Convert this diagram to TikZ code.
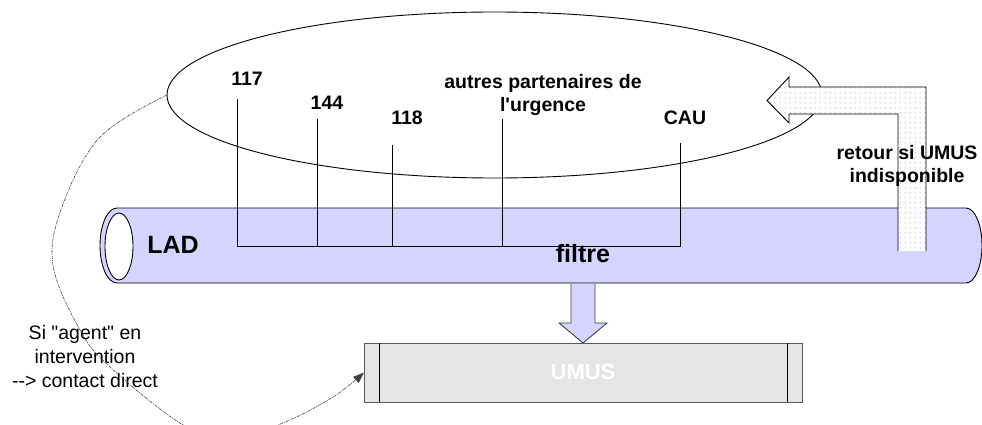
\documentclass[tikz,border=0pt]{standalone}
\usepackage{fontspec}
\setmainfont{Liberation Sans}[Ligatures=TeXOff]
\usetikzlibrary{arrows.meta,patterns.meta,shapes.geometric}

\definecolor{lav}{HTML}{D4D4FF}
\definecolor{dotcol}{HTML}{A8A8EC}
\definecolor{boxgray}{HTML}{E5E5E5}

% sparse dot fill for the return arrow
\tikzdeclarepattern{
  name=sparsedots,
  type=uncolored,
  bounding box={(0pt,0pt) and (4.6pt,4.6pt)},
  tile size={(4.6pt,4.6pt)},
  code={\fill (2.3pt,2.3pt) circle[radius=0.75pt];}
}

\begin{document}
\begin{tikzpicture}[x=1pt,y=-1pt,
  lbl/.style={font=\bfseries\fontsize{19.5}{23}\selectfont, inner sep=0pt, align=center},
  biglbl/.style={font=\bfseries\fontsize{25}{28}\selectfont, inner sep=0pt},
  note/.style={font=\fontsize{19.5}{24}\selectfont, inner sep=0pt, align=center},
  thinline/.style={line width=0.9pt},
  dcurve/.style={line width=0.6pt, draw=black!75, dash pattern=on 3pt off 1pt on 1pt off 1pt,
                 -{Triangle[length=11pt,width=8pt]}},
]
\useasboundingbox (0,0) rectangle (982,425);

% group of emergency partners
\node[draw, ellipse, thinline, minimum width=655pt, minimum height=166pt,
      inner sep=0pt, outer sep=0pt] (grp) at (494.5,95) {};

% the LAD pipe
\path[draw, fill=lav, thinline]
  (117,208) -- (966,208)
  arc[start angle=90, end angle=-90, x radius=16pt, y radius=37.5pt]
  -- (117,283)
  arc[start angle=270, end angle=90, x radius=17pt, y radius=37.5pt]
  -- cycle;
\draw[thinline, fill=white] (119,246.5) ellipse[x radius=14pt, y radius=33.5pt];

% partner labels
\node[lbl] (n117) at (247,79) {117};
\node[lbl] (n144) at (327,103) {144};
\node[lbl] (n118) at (407,118) {118};
\node[lbl] (naut) at (543,95) {autres partenaires de\\l'urgence};
\node[lbl] (ncau) at (685,118) {CAU};

% lines feeding the filter
\coordinate (t117) at (237,99);
\coordinate (t144) at (317,119);
\coordinate (t118) at (392,145);
\coordinate (taut) at (502,119);
\coordinate (tcau) at (680,143);
\coordinate (corner) at (680,246);
\draw[thinline] (t117) |- (corner) -- (tcau);
\foreach \c in {t144,t118,taut}
  \draw[thinline] (\c) -- (\c |- corner);

\node[biglbl] (lad) at (173,245) {LAD};
\node[biglbl] (filtre) at (583,254) {filtre};

% return arrow back to the partners
\path[preaction={fill=white}, pattern=sparsedots, pattern color=dotcol]
  (898,251) -- (898,114) -- (789,114) -- (789,123) -- (767,100.5)
  -- (789,77) -- (789,87) -- (926,87) -- (926,251) -- cycle;
\draw[thinline]
  (898,251) -- (898,114) -- (789,114) -- (789,123) -- (767,100.5)
  -- (789,77) -- (789,87) -- (926,87) -- (926,251);
\node[lbl] (retour) at (907,166) {retour si UMUS\\indisponible};

% UMUS unit
\node[draw=black!65, thinline, fill=boxgray, minimum width=438pt, minimum height=59pt,
      inner sep=0pt, outer sep=0pt]
  (umus) at (583,372.5) {};
\node[text=white, font=\bfseries\fontsize{22}{26}\selectfont, inner sep=0pt] (umuslbl) at (583,372) {UMUS};
\draw[thinline] ([xshift=15pt]umus.north west) -- ([xshift=15pt]umus.south west);
\draw[thinline] ([xshift=-15pt]umus.north east) -- ([xshift=-15pt]umus.south east);

% block arrow from the filter down to UMUS
\path[fill=lav] (571,284) -- (571,323) -- (559,323) -- (583,343) -- (607,323) -- (595,323) -- (595,284) -- cycle;
\draw[thinline, draw=black!75] (571,284) -- (571,323) -- (559,323) -- (583,343) -- (607,323) -- (595,323) -- (595,284);

% direct contact path
\node[note] (agent) at (85,357) {Si "agent" en\\intervention\\--> contact direct};
\begin{scope}
  \clip (0,0) rectangle (982,425);
  \draw[dcurve] plot[smooth, tension=0.6] coordinates
    {(grp.west) (100,137) (62,207) (53,265) (80,330) (110,367) (180,423)
     (228,440) (283,423) (333,397) (umus.west)};
\end{scope}
\end{tikzpicture}
\end{document}
